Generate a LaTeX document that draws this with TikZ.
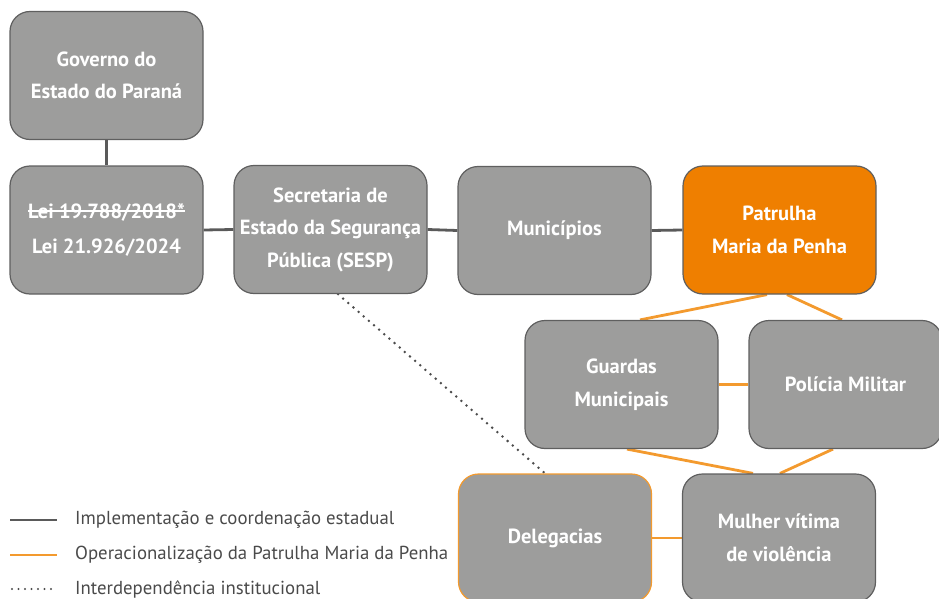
\documentclass[tikz,border=0pt]{standalone}
\usepackage{fontspec}
\setmainfont{PT Sans}
\usetikzlibrary{backgrounds}
\newcommand\mystrike[1]{\setbox0\hbox{#1}\rlap{\rule[0.33em]{\wd0}{1.4pt}}\box0}
\definecolor{boxgray}{HTML}{9D9D9C}
\definecolor{boxedge}{HTML}{5F5F5F}
\definecolor{darkline}{HTML}{5A5A5A}
\definecolor{orfill}{HTML}{EF7F00}
\definecolor{orline}{HTML}{F39A2E}
\definecolor{legtext}{HTML}{4A4A4A}
\begin{document}
\begin{tikzpicture}[x=1pt,y=-1pt,
  box/.style={draw=boxedge, line width=1.2pt, fill=boxgray, rounded corners=20pt,
    minimum width=193pt, minimum height=128pt, inner sep=0pt, align=center,
    text=white, font=\fontsize{20.5}{32.5}\selectfont\bfseries},
  obox/.style={box, fill=orfill},
  dbox/.style={box, draw=orline},
  coordline/.style={draw=darkline, line width=2.8pt},
  opline/.style={draw=orline, line width=2.8pt},
  depline/.style={draw=darkline!85!black, line width=2.8pt, line cap=round, dash pattern=on 0pt off 6.8pt},
  legend/.style={anchor=west, inner sep=0pt, text=legtext, font=\fontsize{18.8}{22}\selectfont}
]
\useasboundingbox (0,0) rectangle (939,599);

\node[box] (gov) at (106.5,75.5) {Governo do\\Estado do Paraná};
\node[box, font=\fontsize{20.5}{35}\selectfont\bfseries] (lei) at (106.5,230) {\mystrike{Lei 19.788/2018*}\\Lei 21.926/2024};
\node[box] (sesp) at (330.5,229.5) {Secretaria de\\Estado da Segurança\\Pública (SESP)};
\node[box] (mun) at (554.5,230.5) {Municípios};
\node[obox] (pat) at (779.5,230) {Patrulha\\Maria da Penha};
\node[box] (gua) at (621.5,384.5) {Guardas\\Municipais};
\node[box] (pm) at (845.5,384.5) {Polícia Militar};
\node[dbox] (del) at (555,538) {Delegacias};
\node[box] (mul) at (779,538) {Mulher vítima\\de violência};

\begin{scope}[on background layer]
\draw[coordline] (gov.south) -- (lei.north);
\draw[coordline] (lei.east) -- (sesp.west);
\draw[coordline] (sesp.east) -- (mun.west);
\draw[coordline] (mun.east) -- (pat.west);
\draw[opline] ([xshift=-12.5pt]pat.south) -- ([xshift=18.5pt]gua.north);
\draw[opline] ([xshift=7.5pt]pat.south) -- ([xshift=-3.5pt]pm.north);
\draw[opline] (gua.east) -- (pm.west);
\draw[opline] ([xshift=5.5pt]gua.south) -- ([xshift=-26pt]mul.north);
\draw[opline] ([xshift=-12.5pt]pm.south) -- ([xshift=1pt]mul.north);
\draw[opline] (del.east) -- (mul.west);
\draw[depline] ([xshift=7.5pt]sesp.south) -- ([xshift=-10pt]del.north);
\end{scope}

\coordinate (l1a) at (10,520); \coordinate (l1b) at (57,520);
\coordinate (l2a) at (10,555); \coordinate (l2b) at (57,555);
\coordinate (l3a) at (12,589); \coordinate (l3b) at (57,589);
\draw[coordline] (l1a) -- (l1b);
\draw[opline] (l2a) -- (l2b);
\draw[depline, line width=2.2pt, dash pattern=on 0pt off 6.5pt] (l3a) -- (l3b);
\node[legend] (t1) at (75,520) {Implementação e coordenação estadual};
\node[legend] (t2) at (75,555) {Operacionalização da Patrulha Maria da Penha};
\node[legend] (t3) at (75,589) {Interdependência institucional};
\end{tikzpicture}
\end{document}
